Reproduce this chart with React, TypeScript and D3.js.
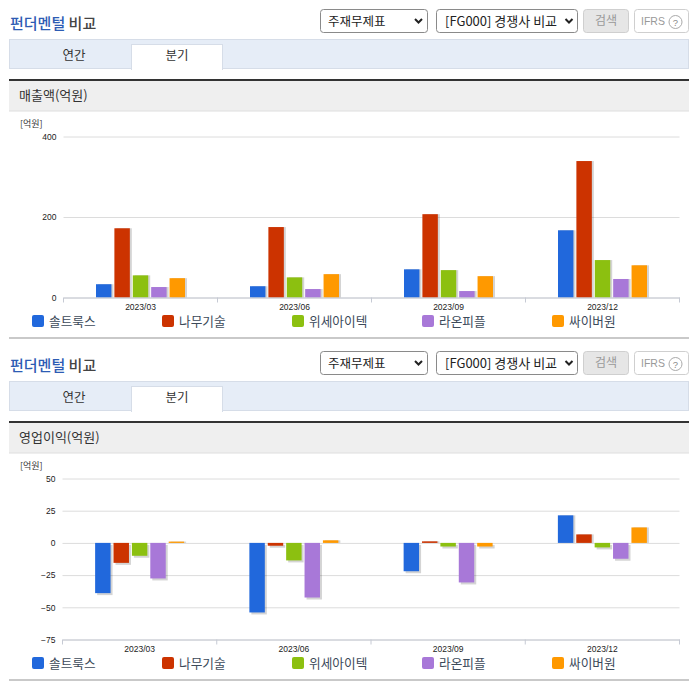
import React, { useEffect, useRef } from "react";
import * as d3 from "d3";

const quarters = ["2023/03", "2023/06", "2023/09", "2023/12"];
const companies = ["솔트룩스", "나무기술", "위세아이텍", "라온피플", "싸이버원"];
const colors = ["#2168dc", "#cc3300", "#8cc010", "#a878d8", "#ff9900"];

// 회사별, 분기 순서
const salesValues = [
  [33, 172, 55, 26, 48],
  [28, 175, 50, 21, 58],
  [70, 207, 68, 16, 53],
  [167, 339, 93, 46, 80],
];
const profitValues = [
  [-39, -15.5, -10, -27.6, 1],
  [-54, -2.2, -13.6, -42.4, 2],
  [-22, 1.2, -2.8, -30.7, -2.8],
  [21.4, 6.6, -3.5, -12.3, 12],
];

const salesTicks = [0, 200, 400];
const profitTicks = [-75, -50, -25, 0, 25, 50];

const legendX = [32, 162, 292, 422, 552];
const korean = "'Noto Sans CJK KR', sans-serif";
const latin = "'Liberation Sans', Arial, sans-serif";

interface PanelProps {
  title: string;
  top: number;
  values: number[][];
  ticks: number[];
  yTop: number;
  yBottom: number;
  xLeft: number;
}

const Panel: React.FC<PanelProps> = ({ title, top, values, ticks, yTop, yBottom, xLeft }) => {
  const plotRef = useRef<SVGGElement | null>(null);

  useEffect(() => {
    if (!plotRef.current) return;
    const xRight = 679.5;
    const g = d3.select(plotRef.current);
    g.selectAll("*").remove();

    const y = d3
      .scaleLinear()
      .domain([ticks[0], ticks[ticks.length - 1]])
      .range([yBottom, yTop]);
    const x = d3.scaleBand().domain(quarters).range([xLeft, xRight]);
    const inner = d3
      .scaleBand()
      .domain(companies)
      .range([-44.5, 44.5])
      .paddingInner(0.16);

    // 가로 눈금선 + y축 라벨
    const yAxis = g
      .append("g")
      .attr("transform", `translate(${xLeft},0)`)
      .call(
        d3
          .axisLeft(y)
          .tickValues(ticks)
          .tickSize(-(xRight - xLeft))
          .tickPadding(7)
      );
    yAxis.select(".domain").remove();
    yAxis.selectAll("line").attr("stroke", "#dcdcdc");
    yAxis
      .selectAll("text")
      .style("font-family", latin)
      .style("font-size", "8.5px")
      .attr("fill", "#222");

    // 막대
    const groups = g
      .selectAll(".quarter")
      .data(values)
      .enter()
      .append("g")
      .attr("class", "quarter")
      .attr("transform", (_, i) => `translate(${x(quarters[i])! + x.bandwidth() / 2},0)`);

    const barY = (v: number) => Math.min(y(v), y(0));
    const barH = (v: number) => Math.abs(y(v) - y(0));

    groups
      .selectAll(".shadow")
      .data((d) => d)
      .enter()
      .append("rect")
      .attr("class", "shadow")
      .attr("x", (_, i) => inner(companies[i])! + 2)
      .attr("y", (d) => barY(d) + (d < 0 ? 2 : 0))
      .attr("width", inner.bandwidth())
      .attr("height", (d) => barH(d))
      .attr("fill", "#000")
      .attr("opacity", 0.17);

    groups
      .selectAll(".bar")
      .data((d) => d)
      .enter()
      .append("rect")
      .attr("class", "bar")
      .attr("x", (_, i) => inner(companies[i])!)
      .attr("y", (d) => barY(d))
      .attr("width", inner.bandwidth())
      .attr("height", (d) => barH(d))
      .attr("fill", (_, i) => colors[i]);

    // x축
    const xAxis = g
      .append("g")
      .attr("transform", `translate(0,${yBottom})`)
      .call(d3.axisBottom(x).tickSize(0).tickPadding(6));
    xAxis.select(".domain").attr("stroke", "#c6cad4");
    xAxis
      .selectAll("text")
      .style("font-family", latin)
      .style("font-size", "8.5px")
      .attr("fill", "#222");
    xAxis
      .selectAll(".sep")
      .data([...quarters.map((q) => x(q)!), xRight])
      .enter()
      .append("line")
      .attr("class", "sep")
      .attr("x1", (d) => d)
      .attr("x2", (d) => d)
      .attr("y1", 0)
      .attr("y2", 5)
      .attr("stroke", "#c6cad4");
  }, [values, ticks, yTop, yBottom, xLeft]);

  return (
    <g transform={`translate(0,${top})`} fontFamily={korean}>
      <text x={10} y={29} fontSize={15} fontWeight={500} fill="#2d5cb4">
        펀더멘털 <tspan fill="#444">비교</tspan>
      </text>

      <rect x={320.5} y={9.5} width={107} height={23} rx={3} fill="#fff" stroke="#8a8a8a" />
      <text x={328} y={25.5} fontSize={12.5} fill="#222">주재무제표</text>
      <path d="M415 19l3.5 3.5 3.5-3.5" fill="none" stroke="#222" strokeWidth={2} />

      <rect x={436.5} y={9.5} width={141} height={23} rx={3} fill="#fff" stroke="#8a8a8a" />
      <text x={445} y={25.5} fontSize={13} fill="#222">[FG000] 경쟁사 비교</text>
      <path d="M565.5 19l3.5 3.5 3.5-3.5" fill="none" stroke="#222" strokeWidth={2} />

      <rect x={583.5} y={9.5} width={45} height={23} rx={3} fill="#e6e6e6" stroke="#cfcfcf" />
      <text x={606} y={25} fontSize={12} fill="#999" textAnchor="middle">검색</text>

      <rect x={634.5} y={9.5} width={54} height={23} rx={3} fill="#fff" stroke="#cfcfcf" />
      <text x={641} y={25} fontSize={10.5} fontFamily={latin} fill="#999">IFRS</text>
      <circle cx={675.5} cy={22} r={6.5} fill="none" stroke="#aaa" />
      <text x={675.5} y={25.5} fontSize={9.5} fontFamily={latin} fill="#888" textAnchor="middle">?</text>

      <rect x={9.5} y={39.5} width={679} height={29} fill="#e6edf7" stroke="#d6dde8" />
      <rect x={131.5} y={44.5} width={91} height={25} fill="#fff" stroke="#d6dde8" />
      <rect x={132} y={67} width={90} height={3} fill="#fff" />
      <text x={74} y={60} fontSize={12.5} fill="#333" textAnchor="middle">연간</text>
      <text x={177} y={60} fontSize={12.5} fill="#333" textAnchor="middle">분기</text>

      <rect x={9} y={81} width={680} height={30} fill="#efefef" />
      <line x1={9} x2={689} y1={111} y2={111} stroke="#dedede" />
      <rect x={9} y={79} width={680} height={2} fill="#333" />
      <text x={19} y={100} fontSize={13} fill="#333">{title}</text>
      <text x={20} y={127} fontSize={9} fill="#333">[억원]</text>

      <g ref={plotRef} />

      {companies.map((name, i) => (
        <g key={name}>
          <rect x={legendX[i]} y={315} width={12} height={12} rx={2} fill={colors[i]} />
          <text x={legendX[i] + 17} y={325.5} fontSize={12.7} fill="#3c4a5a">{name}</text>
        </g>
      ))}
      <rect x={9} y={337} width={680} height={2} fill="#c9c9c9" />
    </g>
  );
};

export default function App() {
  return (
    <svg
      width={696}
      height={684}
      style={{ position: "absolute", left: 0, top: 0, background: "#fff" }}
    >
      <Panel
        title="매출액(억원)"
        top={0}
        values={salesValues}
        ticks={salesTicks}
        yTop={136.5}
        yBottom={297.5}
        xLeft={63.5}
      />
      <Panel
        title="영업이익(억원)"
        top={342}
        values={profitValues}
        ticks={profitTicks}
        yTop={136.5}
        yBottom={297.5}
        xLeft={62.5}
      />
    </svg>
  );
}
